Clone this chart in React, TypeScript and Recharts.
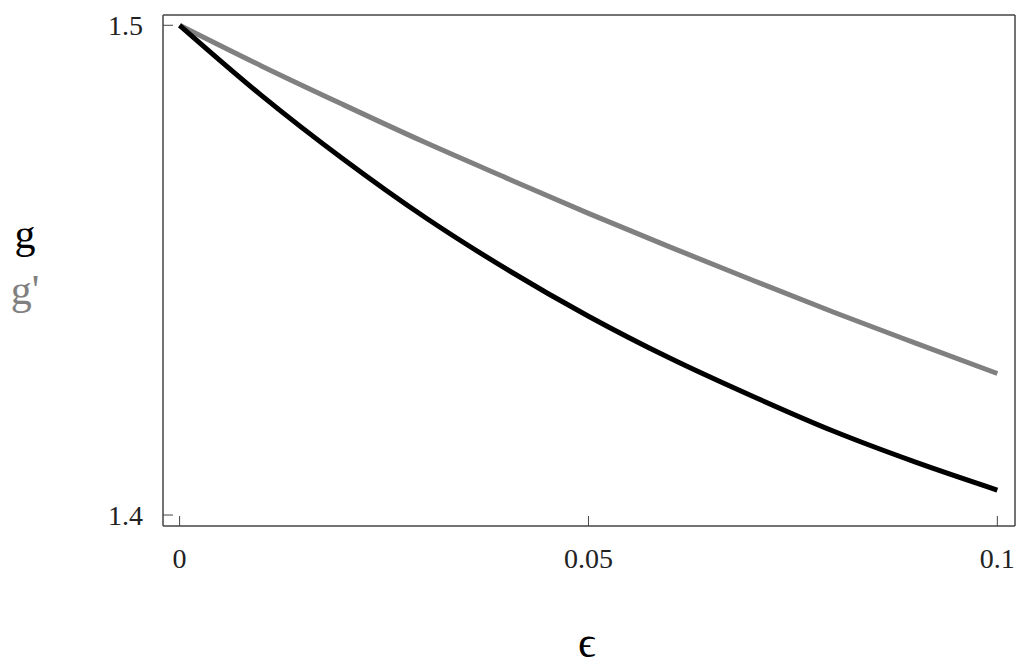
import { LineChart, Line, XAxis, YAxis } from "recharts";

// epsilon samples and the two curves
const EPS = [0, 0.01, 0.02, 0.03, 0.04, 0.05, 0.06, 0.07, 0.08, 0.09, 0.1];
const G = [1.5, 1.4857, 1.4727, 1.4608, 1.4502, 1.4406, 1.432, 1.4243, 1.4171, 1.4108, 1.4051];
const G_PRIME = [1.5, 1.4917, 1.4838, 1.4761, 1.4688, 1.4616, 1.4547, 1.448, 1.4414, 1.4351, 1.4289];

const X_TICKS = [0, 0.05, 0.1];
const Y_TICKS = [1.4, 1.5];
const X_LABELS = ["0", "0.05", "0.1"];
const Y_LABELS = ["1.4", "1.5"];

const data = EPS.map((e, i) => ({ eps: e, g: G[i], gp: G_PRIME[i] }));

const FONT = "'Liberation Serif', 'DejaVu Serif', serif";
const FRAME = "#444";
const TICK_LEN = 10;

function XTick({ x, y, payload }: any) {
  const i = X_TICKS.indexOf(payload.value);
  return (
    <g>
      <line x1={x} x2={x} y1={y} y2={y - TICK_LEN} stroke={FRAME} strokeWidth={1} />
      <text x={x} y={y + 42} textAnchor="middle" fontFamily={FONT} fontSize={28} fill="#222">
        {X_LABELS[i]}
      </text>
    </g>
  );
}

function YTick({ x, y, payload }: any) {
  const i = Y_TICKS.indexOf(payload.value);
  return (
    <g>
      <line x1={x} x2={x + TICK_LEN} y1={y} y2={y} stroke={FRAME} strokeWidth={1} />
      <text x={x - 20} y={y + 10} textAnchor="end" fontFamily={FONT} fontSize={28} fill="#222">
        {Y_LABELS[i]}
      </text>
    </g>
  );
}

export default function App() {
  return (
    <div style={{ position: "absolute", left: 0, top: 0, width: 1024, height: 666, background: "#fff" }}>
      <LineChart width={1024} height={666} data={data} margin={{ top: 0, right: 0, bottom: 80, left: 0 }}>
        <XAxis
          dataKey="eps" type="number" domain={[-0.00203, 0.10216]} allowDataOverflow
          ticks={X_TICKS} tick={<XTick />} tickLine={false} tickSize={0} tickMargin={0}
          axisLine={{ stroke: FRAME, strokeWidth: 1.5 }} height={60}
        />
        <XAxis
          xAxisId="top" orientation="top" dataKey="eps" type="number" domain={[-0.00203, 0.10216]}
          allowDataOverflow tick={false} tickLine={false} axisLine={{ stroke: FRAME, strokeWidth: 1.5 }} height={15}
        />
        <YAxis
          type="number" domain={[1.39776, 1.5021]} allowDataOverflow ticks={Y_TICKS}
          tick={<YTick />} tickLine={false} tickSize={0} tickMargin={0}
          axisLine={{ stroke: FRAME, strokeWidth: 1.5 }} width={163}
        />
        <YAxis
          yAxisId="r" orientation="right" type="number" domain={[1.39776, 1.5021]} allowDataOverflow
          tick={false} tickLine={false} axisLine={{ stroke: FRAME, strokeWidth: 1.5 }} width={9}
        />
        <Line type="monotone" dataKey="gp" stroke="#808080" strokeWidth={5} dot={false} isAnimationActive={false} />
        <Line type="monotone" dataKey="g" stroke="#000" strokeWidth={5} dot={false} isAnimationActive={false} />
        <text x={25} y={248} textAnchor="middle" fontFamily={FONT} fontSize={42} fill="#000">g</text>
        <text x={25} y={304} textAnchor="middle" fontFamily={FONT} fontSize={42} fill="#808080">g'</text>
        <text x={587} y={657} textAnchor="middle" fontFamily={FONT} fontSize={44} fill="#000">ϵ</text>
      </LineChart>
    </div>
  );
}
